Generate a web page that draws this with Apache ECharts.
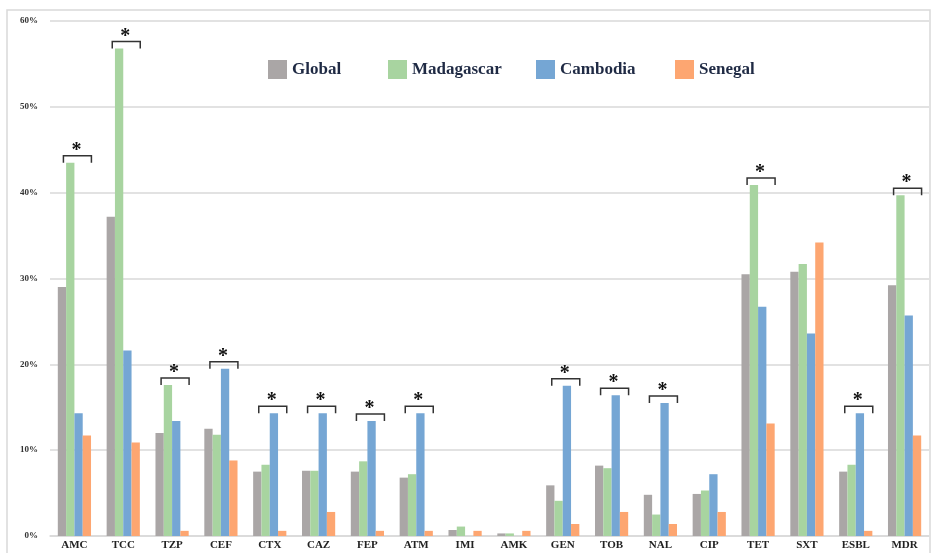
<!DOCTYPE html>
<html>
<head>
<meta charset="utf-8">
<script src="https://cdn.jsdelivr.net/npm/echarts@6/dist/echarts.min.js"></script>
<style>
html, body { margin: 0; padding: 0; background: #fff; }
#main { width: 933px; height: 553px; }
</style>
</head>
<body>
<div id="main"></div>
<script>
// 抗生素类别
var categories = ['AMC', 'TCC', 'TZP', 'CEF', 'CTX', 'CAZ', 'FEP', 'ATM', 'IMI', 'AMK',
                  'GEN', 'TOB', 'NAL', 'CIP', 'TET', 'SXT', 'ESBL', 'MDR'];
// 耐药率 (%)
var globalData     = [29.0, 37.2, 12.0, 12.5, 7.5, 7.6, 7.5, 6.8, 0.7, 0.3, 5.9, 8.2, 4.8, 4.9, 30.5, 30.8, 7.5, 29.2];
var madagascarData = [43.5, 56.8, 17.6, 11.8, 8.3, 7.6, 8.7, 7.2, 1.1, 0.3, 4.1, 7.9, 2.5, 5.3, 40.9, 31.7, 8.3, 39.7];
var cambodiaData   = [14.3, 21.6, 13.4, 19.5, 14.3, 14.3, 13.4, 14.3, 0, 0, 17.5, 16.4, 15.5, 7.2, 26.7, 23.6, 14.3, 25.7];
var senegalData    = [11.7, 10.9, 0.6, 8.8, 0.6, 2.8, 0.6, 0.6, 0.6, 0.6, 1.4, 2.8, 1.4, 2.8, 13.1, 34.2, 0.6, 11.7];
// 显著差异 (*)
var significant = ['AMC', 'TCC', 'TZP', 'CEF', 'CTX', 'CAZ', 'FEP', 'ATM', 'GEN', 'TOB', 'NAL', 'TET', 'ESBL', 'MDR'];
var seriesNames = ['Global', 'Madagascar', 'Cambodia', 'Senegal'];
var yTicks = [0, 10, 20, 30, 40, 50, 60];

var bracketData = significant.map(function (c) {
    var i = categories.indexOf(c);
    return [i, Math.max(globalData[i], madagascarData[i], cambodiaData[i], senegalData[i])];
});

var serif = '"Liberation Serif", "DejaVu Serif", serif';
var chart = echarts.init(document.getElementById('main'));

function bar(name, data, color) {
    return {
        name: name,
        type: 'bar',
        data: data,
        barGap: '0%',
        barCategoryGap: '32%',
        itemStyle: { color: color },
        emphasis: { disabled: true }
    };
}

// 图例逐项摆放
var legendLeft = [263, 383, 531, 670];
var legends = seriesNames.map(function (n, k) {
    return {
        left: legendLeft[k],
        top: 55,
        itemWidth: 19,
        itemHeight: 19,
        icon: 'rect',
        textStyle: { fontFamily: serif, fontSize: 17, fontWeight: 'bold', color: '#1f2a44' },
        data: [n]
    };
});

var option = {
    animation: false,
    graphic: [{
        type: 'rect',
        shape: { x: 7, y: 10, width: 923, height: 560 },
        style: { fill: null, stroke: '#d9d9d9', lineWidth: 1.5 },
        silent: true
    }],
    legend: legends,
    grid: { left: 50, right: 4, top: 21, bottom: 17 },
    xAxis: {
        type: 'category',
        data: categories,
        axisLine: { lineStyle: { color: '#d9d9d9', width: 1.5 } },
        axisTick: { show: false },
        axisLabel: { fontFamily: serif, fontSize: 11, fontWeight: 'bold', color: '#222', margin: 4 }
    },
    yAxis: {
        type: 'value',
        min: yTicks[0],
        max: yTicks[yTicks.length - 1],
        interval: 10,
        axisLine: { show: false },
        axisTick: { show: false },
        splitLine: { lineStyle: { color: '#d9d9d9', width: 1.5 } },
        axisLabel: { fontFamily: serif, fontSize: 9, fontWeight: 'bold', color: '#333', margin: 12, formatter: '{value}%' }
    },
    series: [
        bar('Global', globalData, '#aaa6a6'),
        bar('Madagascar', madagascarData, '#a8d4a0'),
        bar('Cambodia', cambodiaData, '#75a6d4'),
        bar('Senegal', senegalData, '#fda671'),
        {
            type: 'custom',
            silent: true,
            z: 5,
            data: bracketData,
            renderItem: function (params, api) {
                var p = api.coord([api.value(0), api.value(1)]);
                var cx = p[0] + 3;
                var y = p[1] - 7;
                return {
                    type: 'group',
                    children: [{
                        type: 'polyline',
                        shape: { points: [[cx - 14, y + 7], [cx - 14, y], [cx + 14, y], [cx + 14, y + 7]] },
                        style: { stroke: '#333', lineWidth: 1.5, fill: null }
                    }, {
                        type: 'text',
                        style: {
                            text: '*', x: cx - 1, y: y + 5, align: 'center', verticalAlign: 'bottom',
                            font: 'bold 20px ' + serif, fill: '#111'
                        }
                    }]
                };
            }
        }
    ]
};
chart.setOption(option);
</script>
</body>
</html>
